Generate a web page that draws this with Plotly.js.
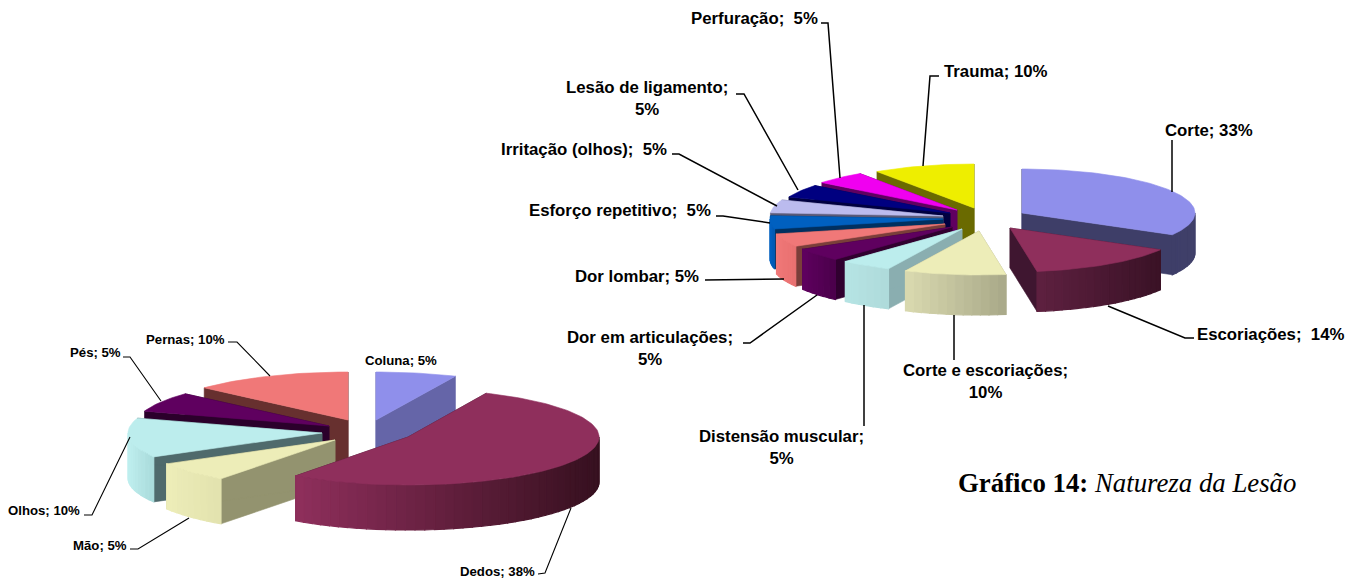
<!DOCTYPE html>
<html><head><meta charset="utf-8">
<script src="https://cdn.plot.ly/plotly-3.0.1.min.js"></script>
<style>html,body{margin:0;padding:0;background:#fff}#chart{width:1362px;height:581px}</style>
</head><body><div id="chart"></div>
<script>
// ---- data ----
const lesaoCategories = ['Corte','Escoriações','Corte e escoriações','Distensão muscular','Dor em articulações','Dor lombar','Esforço repetitivo','Irritação (olhos)','Lesão de ligamento','Perfuração','Trauma'];
const lesaoValues = [33.3,14.3,9.5,4.8,4.8,4.8,4.8,4.8,4.8,4.8,9.5];
const lesaoLabels = ['Corte; 33%','Escoriações;\u00A0 14%','Corte e escoriações;<br>10%','Distensão muscular;<br>5%','Dor em articulações;<br>5%','Dor lombar; 5%','Esforço repetitivo;\u00A0 5%','Irritação (olhos);\u00A0 5%','Lesão de ligamento;<br>5%','Perfuração;\u00A0 5%','Trauma; 10%'];
const corpoCategories = ['Coluna','Dedos','Mão','Olhos','Pés','Pernas'];
const corpoValues = [4.8,38.1,4.8,9.5,4.8,9.5];
const corpoLabels = ['Coluna; 5%','Dedos; 38%','Mão; 5%','Olhos; 10%','Pés; 5%','Pernas; 10%'];
const captionBold = 'Gráfico 14:';
const captionItalic = 'Natureza da Lesão';

// ---- drawing styles and placement ----
const lesaoStyle = {
  rx:173, ry:44, depth:40, font:16.8,
  order:[0,10,9,8,7,6,5,4,3,2,1],
  apex:[[1022,213],[1010,228],[979,231],[962,229],[952,227],[945,224],[943,219],[943,216],[950,213],[957,210],[974,208]],
  rxScale:[1,1,1,1,1,1,1,1,1,1,1],
  top:['#8F8FEB','#8F2F5C','#EDEDB8','#BCEDED','#5F005F','#F07878','#0060C0','#BBBBEE','#000080','#F000F0','#EEEE00'],
  face:['#3E3E68','#3F1630','#A8A888','#8AAEB0','#30002F','#7A3E3A','#003060','#5A5A78','#000040','#600060','#6A6A00'],
  wallL:['#3E3E68','#5E2040','#DADAB0','#B6E4E4','#5F005F','#F07878','#0060C0','#5A5A78','#000040','#600060','#6A6A00'],
  wallR:['#40406A','#3A1226','#A8A888','#AEDADA','#4A004A','#E87070','#0058B0','#5A5A78','#000040','#600060','#6A6A00'],
  textPos:[[1209,130],[1270,334],[985,381],[781,447],[650,348],[637,276],[620,210],[584,149],[647,98],[754,18],[996,71]],
  leaders:[[[1172,140],[1172,192]],[[1108,306],[1185,338],[1194,338]],[[954,315],[954,360]],[[864,305],[864,426]],
           [[817,295],[750,343],[743,343]],[[784,279],[705,280]],[[770,223],[723,216],[716,216]],[[777,206],[679,154],[672,154]],
           [[798,190],[744,94],[736,94]],[[840,178],[828,23],[821,23]],[[923,166],[930,76],[939,76]]],
  lw:1.5
};
const corpoStyle = {
  rx:194, ry:48, depth:45, font:13.2,
  order:[0,5,4,3,2,1],
  apex:[[376,420],[408,437],[335,440],[322,433],[329,426],[348,420]],
  rxScale:[1,0.985,1,1,1,1],
  top:['#8F8FEB','#8F2F5C','#EDEDB8','#BCEDED','#5F005F','#F07878'],
  face:['#6565A8','#3A1428','#93936F','#4F6A6C','#2B002B','#67302F'],
  wallL:['#6565A8','#8F2F5C','#EDEDB8','#BFEEEE','#2B002B','#67302F'],
  wallR:['#6565A8','#36101F','#E2E2AE','#A8DADA','#2B002B','#67302F'],
  textPos:[[401,360],[497,571],[100,545],[44,510],[95,352],[185,339]],
  leaders:[[],[[571,508],[545,573],[538,574]],[[189,518],[138,549],[130,549]],[[130,437],[92,515],[84,515]],
           [[161,401],[130,357],[123,357]],[[270,376],[237,342],[228,342]]],
  lw:1.1
};

const traces = [];
const annotations = [];
function hex(c){return [1,3,5].map(i=>parseInt(c.substr(i,2),16));}
function mix(a,b,t){const A=hex(a),B=hex(b);return 'rgb('+A.map((v,i)=>Math.round(v+(B[i]-v)*t)).join(',')+')';}
function poly(xs,ys,color,w){
  traces.push({type:'scatter',mode:'lines',x:xs,y:ys,fill:'toself',fillcolor:color,
    line:{color:color,width:w||0.6},hoverinfo:'skip',showlegend:false});
}
function drawPie(values,labels,st){
  const total = values.reduce((a,b)=>a+b,0);
  const bounds = [0]; values.forEach(v=>bounds.push(bounds[bounds.length-1]+v/total*360));
  const rad = d=>d*Math.PI/180;
  st.order.forEach(i=>{
    const [ax,ay]=st.apex[i], a0=bounds[i], a1=bounds[i+1], rx=st.rx*st.rxScale[i];
    const px=a=>ax+rx*Math.sin(rad(a)), py=a=>ay-st.ry*Math.cos(rad(a));
    // radial side faces
    [a0,a1].forEach(a=>poly([ax,px(a),px(a),ax,ax],[ay,py(a),py(a)+st.depth,ay+st.depth,ay],st.face[i]));
    // outer wall, front-facing part only, as shaded strips
    const w0=Math.max(a0,90), w1=Math.min(a1,270);
    if(w1>w0){
      const n=Math.max(1,Math.ceil((w1-w0)/3));
      const xL=Math.min(px(w0),px(w1)), xR=Math.max(px(w0),px(w1));
      for(let k=0;k<n;k++){
        const b0=w0+(w1-w0)*k/n, b1=w0+(w1-w0)*(k+1)/n;
        const t=(px((b0+b1)/2)-xL)/Math.max(1,xR-xL);
        poly([px(b0),px(b1),px(b1),px(b0),px(b0)],
             [py(b0),py(b1),py(b1)+st.depth,py(b0)+st.depth,py(b0)],mix(st.wallL[i],st.wallR[i],t),1.2);
      }
    }
    // top surface
    const xs=[ax],ys=[ay];
    const m=Math.ceil((a1-a0)/1.5);
    for(let k=0;k<=m;k++){const a=a0+(a1-a0)*k/m;xs.push(px(a));ys.push(py(a));}
    xs.push(ax);ys.push(ay);
    poly(xs,ys,st.top[i]);
  });
  st.leaders.forEach(l=>{
    if(!l.length) return;
    traces.push({type:'scatter',mode:'lines',x:l.map(p=>p[0]),y:l.map(p=>p[1]),
      line:{color:'#000',width:st.lw},hoverinfo:'skip',showlegend:false});
  });
  labels.forEach((t,i)=>annotations.push({text:'<b>'+t+'</b>',x:st.textPos[i][0],y:st.textPos[i][1],
    xref:'x',yref:'y',showarrow:false,align:'center',xanchor:'center',yanchor:'middle',
    font:{family:'"Liberation Sans",Arial,sans-serif',size:st.font,color:'#000'}}));
}
drawPie(corpoValues,corpoLabels,corpoStyle);
drawPie(lesaoValues,lesaoLabels,lesaoStyle);
annotations.push({text:'<b>'+captionBold+'</b> <i>'+captionItalic+'</i>',x:1127,y:483,xref:'x',yref:'y',
  showarrow:false,xanchor:'center',yanchor:'middle',
  font:{family:'"Liberation Serif","Times New Roman",serif',size:26.8,color:'#000'}});

Plotly.newPlot('chart',traces,{
  width:1362,height:581,margin:{l:0,r:0,t:0,b:0},
  paper_bgcolor:'#fff',plot_bgcolor:'#fff',showlegend:false,
  xaxis:{range:[0,1362],visible:false,fixedrange:true},
  yaxis:{range:[581,0],visible:false,fixedrange:true},
  annotations:annotations
},{displayModeBar:false,staticPlot:true});
</script></body></html>
